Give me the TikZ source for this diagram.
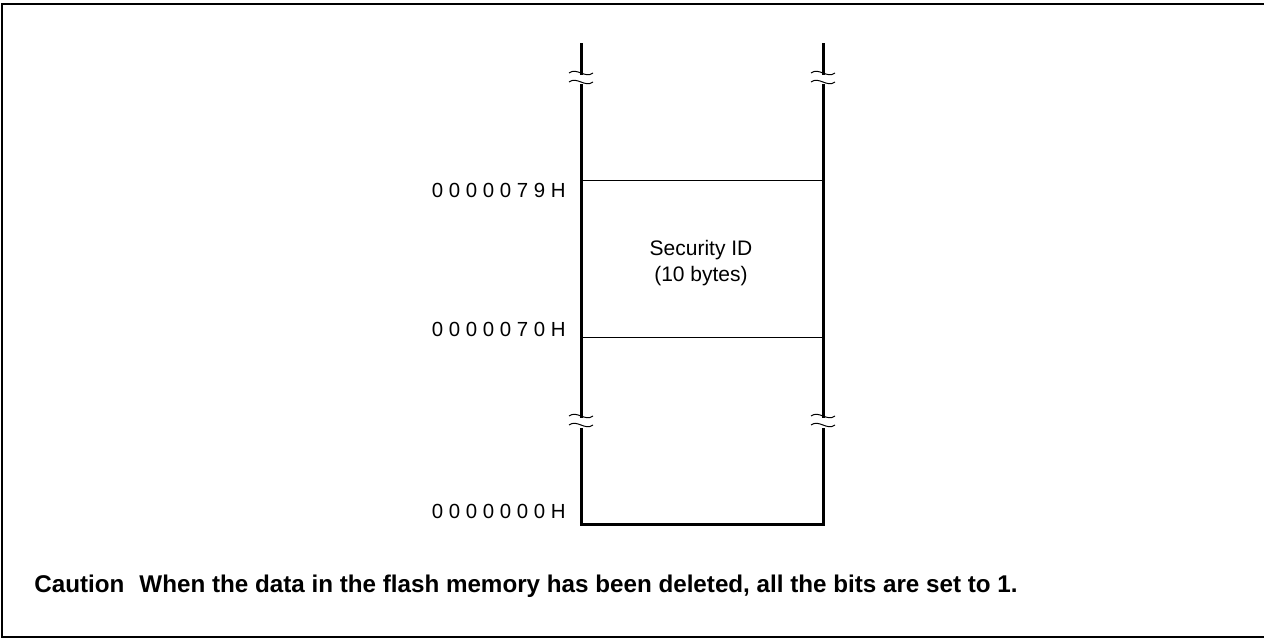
\documentclass[tikz,border=0pt]{standalone}
\usepackage{fontspec}
\setmainfont{Liberation Sans}
\begin{document}
\begin{tikzpicture}[x=0.5pt, y=-0.5pt]
    \tikzset{
        memline/.style={line width=1.5pt},
        rowline/.style={line width=0.5pt},
        addr/.style={anchor=base east, inner sep=0pt, font=\fontsize{10.2}{12}\selectfont},
        brkmark/.pic={
            \draw[line width=0.5pt] (-12,-3) .. controls (-4,-9) and (4,3) .. (12,-3);
            \draw[line width=0.5pt] (-12,6) .. controls (-4,0) and (4,12) .. (12,6);
        }
    }
    \useasboundingbox (0,0) rectangle (1264,639);

    % Outer frame
    \draw[line width=1.4pt] (1264,4) -- (2,4) -- (2,637) -- (1264,637);

    % Memory column
    \coordinate (ltop) at (581,43);
    \coordinate (rtop) at (823,43);
    \coordinate (lbot) at (581,524);
    \coordinate (rbot) at (823,524);
    \foreach \xx in {581,823} {
        \draw[memline] (\xx,43) -- (\xx,75);
        \draw[memline] (\xx,84) -- (\xx,418);
        \pic at (\xx,76) {brkmark};
        \pic at (\xx,419) {brkmark};
    }
    \draw[memline] (581,428) -- (lbot) -- (rbot) -- (823,428);

    % Security ID area
    \coordinate (s1) at (581,180);
    \coordinate (s2) at (581,337);
    \draw[rowline] (s1) -- (823,180);
    \draw[rowline] (s2) -- (823,337);
    \node[align=center, font=\fontsize{10.5}{13}\selectfont] (secid) at (701,263)
        {Security ID\\(10 bytes)};

    % Addresses
    \node[addr] (a79) at (566,197) {0 0 0 0 0 7 9 H};
    \node[addr] (a70) at (566,336) {0 0 0 0 0 7 0 H};
    \node[addr] (a00) at (566,518) {0 0 0 0 0 0 0 H};

    % Caution note
    \node[anchor=base west, inner sep=0pt, font=\bfseries\fontsize{12.1}{14}\selectfont] (caution)
        at (34,592) {Caution\hspace{7.5pt}When the data in the flash memory has been deleted, all the bits are set to 1.};
\end{tikzpicture}
\end{document}
